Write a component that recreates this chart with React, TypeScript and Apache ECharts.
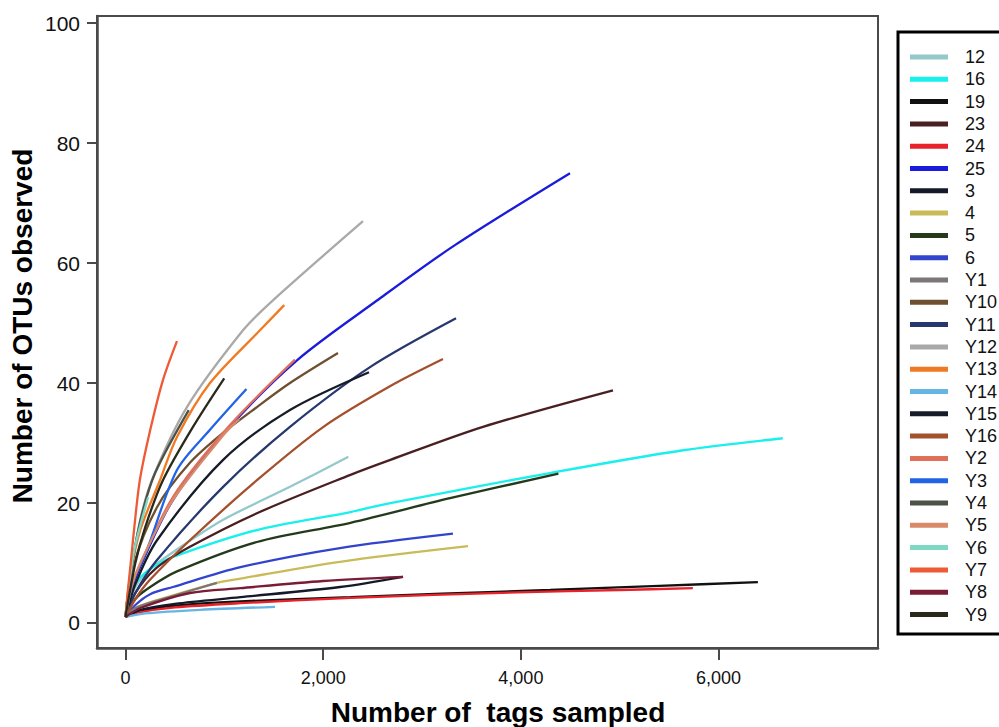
import React, { useEffect, useRef } from "react";
import * as echarts from "echarts";

// Tick labels
const xTicks = [0, 2000, 4000, 6000];
const yTicks = [0, 20, 40, 60, 80, 100];

// Series names (legend order) and colours
const names = ["12", "16", "19", "23", "24", "25", "3", "4", "5", "6", "Y1", "Y10", "Y11", "Y12", "Y13", "Y14", "Y15", "Y16", "Y2", "Y3", "Y4", "Y5", "Y6", "Y7", "Y8", "Y9"];
const colors = ["#93c8cc", "#19f0ec", "#111111", "#4a1f22", "#e8222a", "#1b1bdc", "#151a2a", "#c9bb5a", "#253a1c", "#3344cc", "#7b7677", "#6e5030", "#27386e", "#a9a9a9", "#f07a22", "#66b5e2", "#161c28", "#a4502c", "#e0705c", "#2264e6", "#4b5246", "#d98a68", "#7fd8c4", "#ef5a36", "#7a1c36", "#2a2a1c"];

// Rarefaction curves: [tags sampled, OTUs observed]
const s12 = [[0, 1], [100, 6], [250, 9], [480, 11.8], [988, 17.2], [1664, 22.7], [2255, 27.7]];
const s16 = [[0, 1], [100, 6.5], [250, 9], [480, 11], [1330, 15.5], [2276, 18.5], [2680, 20], [4294, 25], [5641, 28.8], [6650, 30.8]];
const s19 = [[0, 1], [150, 2], [500, 2.9], [1163, 3.6], [2276, 4.3], [3200, 4.9], [4294, 5.5], [5400, 6.2], [6398, 6.8]];
const s23 = [[0, 1], [100, 5], [300, 9], [652, 12.7], [1330, 18.3], [2276, 24.7], [2680, 27.2], [3617, 32.7], [4932, 38.8]];
const s24 = [[0, 1], [150, 1.8], [500, 2.6], [1163, 3.3], [2276, 4.2], [3961, 5.1], [5000, 5.5], [5740, 5.8]];
const s25 = [[0, 1], [50, 5], [147, 9.3], [480, 20.5], [1057, 32.7], [1735, 43.8], [2548, 53.8], [3333, 63], [4497, 75]];
const s3 = [[0, 1], [150, 2.2], [500, 3.2], [1163, 4.3], [2170, 6], [2808, 7.7]];
const s4 = [[0, 1], [100, 2.5], [319, 3.8], [925, 6.7], [1163, 7.4], [2170, 10.2], [3465, 12.8]];
const s5 = [[0, 1], [100, 4], [250, 6], [521, 8.6], [1330, 13.5], [2276, 16.7], [3283, 20.8], [4380, 24.9]];
const s6 = [[0, 1], [100, 3], [250, 4.8], [480, 6], [1163, 9.3], [2170, 12.5], [3313, 14.9]];
const sY1 = [[0, 1], [100, 2.5], [480, 4.5], [925, 6.7]];
const sY10 = [[0, 1], [76, 9.3], [319, 19.3], [652, 26.7], [988, 31.7], [1330, 36], [1664, 40], [2150, 45]];
const sY11 = [[0, 1], [100, 5], [319, 10.5], [988, 22.7], [1664, 32.7], [2478, 42.7], [3344, 50.8]];
const sY12 = [[0, 1], [45, 7], [147, 17], [279, 24.3], [622, 36], [1189, 48.8], [1492, 53.8], [2403, 67]];
const sY13 = [[0, 1], [50, 8], [150, 15.5], [349, 23.8], [521, 31], [855, 40], [1361, 48.8], [1606, 53]];
const sY14 = [[0, 1], [200, 1.6], [754, 2.2], [1513, 2.7]];
const sY15 = [[0, 1], [100, 6.5], [319, 13.8], [988, 27.2], [1664, 35.5], [2464, 41.8]];
const sY16 = [[0, 1], [100, 4], [248, 7.2], [652, 13.8], [1330, 23.8], [2003, 32.7], [2680, 39.5], [3212, 44]];
const sY2 = [[0, 1], [60, 6], [147, 9.7], [480, 21], [1057, 33], [1715, 43.9]];
const sY3 = [[0, 1], [80, 7], [217, 12.2], [521, 25.5], [855, 32.2], [1224, 39]];
const sY4 = [[0, 1], [50, 8], [150, 17], [300, 25], [640, 35.5]];
const sY5 = [[0, 1], [60, 6], [150, 10], [480, 20.5], [1000, 31.5], [1150, 34]];
const sY6 = [[0, 1], [40, 7], [100, 13], [230, 21]];
const sY7 = [[0, 1], [25, 5.5], [56, 10.5], [96, 17], [147, 24], [248, 32], [379, 40.5], [521, 47]];
const sY8 = [[0, 1], [150, 2.5], [652, 5], [1163, 5.8], [2000, 7], [2808, 7.7]];
const sY9 = [[0, 1], [100, 10], [200, 16], [379, 23.8], [683, 32.7], [999, 40.8]];

const seriesData = [s12, s16, s19, s23, s24, s25, s3, s4, s5, s6, sY1, sY10, sY11, sY12, sY13, sY14, sY15, sY16, sY2, sY3, sY4, sY5, sY6, sY7, sY8, sY9];

const FONT = '"Liberation Sans", Arial, Helvetica, sans-serif';

export default function App() {
  const ref = useRef<HTMLDivElement>(null);
  useEffect(() => {
    if (!ref.current) return;
    const chart = echarts.init(ref.current, null, { renderer: "svg" });
    const axisColor = "#4a4a4a";
    chart.setOption({
      animation: false,
      backgroundColor: "#ffffff",
      grid: {
        left: 97,
        top: 16,
        width: 781,
        height: 632,
        show: true,
        borderColor: axisColor,
        borderWidth: 2,
        containLabel: false,
      },
      xAxis: {
        type: "value",
        min: -288,
        max: 7613,
        splitLine: { show: false },
        axisLine: { show: true, onZero: false, lineStyle: { color: axisColor, width: 2.5 } },
        axisTick: { show: true, length: 12, customValues: xTicks, lineStyle: { color: axisColor, width: 2 } },
        axisLabel: {
          customValues: xTicks,
          margin: 21,
          fontSize: 18,
          fontFamily: FONT,
          color: "#111",
          formatter: (v: number) => v.toLocaleString("en-US"),
        },
      },
      yAxis: {
        type: "value",
        min: -4.17,
        max: 101.2,
        splitLine: { show: false },
        axisLine: { show: true, onZero: false, lineStyle: { color: axisColor, width: 2.5 } },
        axisTick: { show: true, length: 10, customValues: yTicks, lineStyle: { color: axisColor, width: 2 } },
        axisLabel: {
          customValues: yTicks,
          margin: 17,
          fontSize: 21,
          fontFamily: FONT,
          color: "#111",
        },
      },
      legend: {
        orient: "vertical",
        left: 910,
        top: 48,
        icon: "rect",
        itemWidth: 38,
        itemHeight: 5,
        itemGap: 4.3,
        padding: 0,
        data: names,
        textStyle: { fontSize: 18, lineHeight: 18, fontFamily: FONT, color: "#111", padding: [0, 0, 0, 12] },
      },
      graphic: [
        {
          type: "rect",
          shape: { x: 898, y: 32, width: 130, height: 602 },
          style: { fill: "none", stroke: "#000", lineWidth: 3 },
          silent: true,
        },
        {
          type: "text",
          x: 498,
          y: 712,
          style: {
            text: "Number of  tags sampled",
            font: `bold 28px ${FONT}`,
            fill: "#000",
            align: "center",
            verticalAlign: "middle",
          },
        },
        {
          type: "text",
          x: 22,
          y: 326,
          rotation: Math.PI / 2,
          style: {
            text: "Number of OTUs observed",
            font: `bold 28px ${FONT}`,
            fill: "#000",
            align: "center",
            verticalAlign: "middle",
          },
        },
      ],
      series: names.map((n, i) => ({
        name: n,
        type: "line",
        data: seriesData[i],
        symbol: "none",
        smooth: 0.3,
        color: colors[i],
        lineStyle: { color: colors[i], width: 2.3 },
        itemStyle: { color: colors[i] },
      })),
    });
    return () => chart.dispose();
  }, []);
  return <div ref={ref} style={{ position: "fixed", left: 0, top: 0, width: 999, height: 727 }} />;
}
